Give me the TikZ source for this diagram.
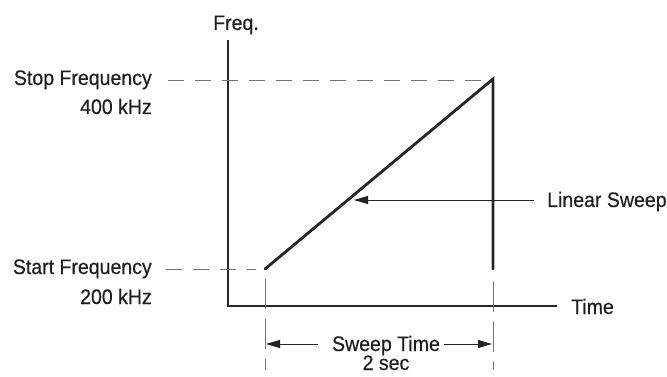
\documentclass[tikz,border=0pt]{standalone}
\usepackage{fontspec}
\setmainfont{Liberation Sans}[FakeStretch=0.93,FakeBold=0.4]
\usetikzlibrary{arrows.meta}
\begin{document}
\begin{tikzpicture}[x=1pt,y=-1pt,
  lbl/.style={font=\fontsize{21}{22}\selectfont, inner sep=0pt, text=black!88},
  axis/.style={line width=2.2pt, black!85},
  sweep/.style={line width=2.8pt, black!85},
  guide/.style={line width=0.8pt, black!55, dash pattern=on 16pt off 11pt},
  thin/.style={line width=0.9pt, black!85},
  tick/.style={line width=0.8pt, black!55, dash pattern=on 30pt off 10pt},
  tip/.style={-{Triangle[length=14pt,width=8pt]}}]
\useasboundingbox (0,0) rectangle (667,377);
% axes
\coordinate (o) at (228,306);
\coordinate (ytop) at (228,40);
\coordinate (xend) at (557,306);
\draw[axis] (ytop) -- (o) -- (xend);
% labels
\node[lbl, anchor=base] (freq) at (236,30) {Freq.};
\node[lbl, anchor=base west] (time) at (571,314) {Time};
\node[lbl, anchor=base east] (stop) at (152,85) {Stop Frequency};
\node[lbl, anchor=base east] (stopv) at (152,114) {400 kHz};
\node[lbl, anchor=base east] (start) at (152,274) {Start Frequency};
\node[lbl, anchor=base east] (startv) at (152,304) {200 kHz};
\node[lbl, anchor=base west] (lin) at (547,207) {Linear Sweep};
\node[lbl, anchor=base] (swt) at (386,351) {Sweep Time};
\node[lbl, anchor=base] (sec) at (386,370) {2 sec};
% sweep
\coordinate (a) at (265,269);
\coordinate (b) at (493,79);
\coordinate (c) at (493,269);
\draw[sweep, line join=miter, line cap=round] (a) -- (b) -- (c);
% guides
\draw[guide] (168,80) -- (482,80);
\draw[guide] (166,269) -- (256,269);
\draw[tick] (265,279) -- (265,370);
\draw[tick] (493,282) -- (493,370);
% arrows
\draw[thin, tip] (318,344) -- (266,344);
\draw[thin, tip] (444,344) -- (492,344);
\draw[thin, tip] (534,200) -- (354,200);
\end{tikzpicture}
\end{document}
